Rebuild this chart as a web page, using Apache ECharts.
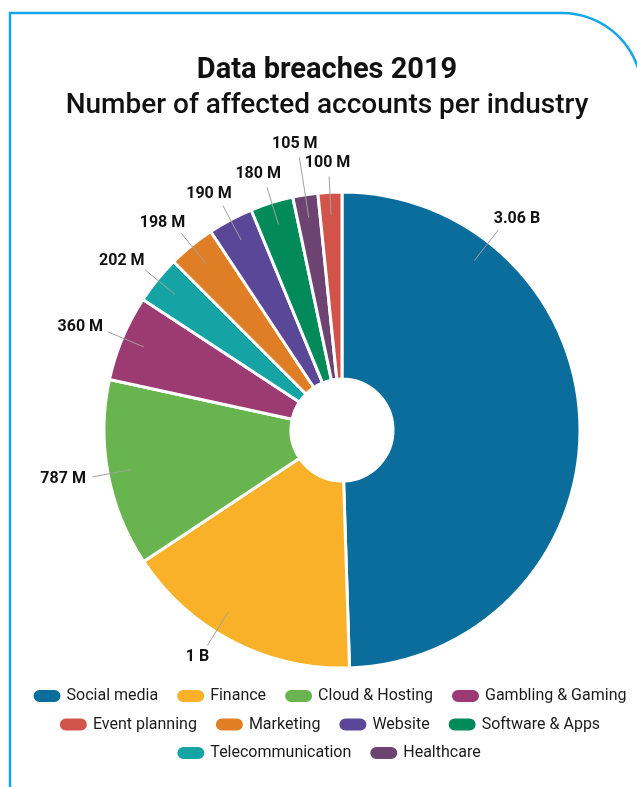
<!DOCTYPE html>
<html>
<head>
<meta charset="utf-8">
<script src="https://cdn.jsdelivr.net/npm/echarts@6/dist/echarts.min.js"></script>
<style>
  html, body { margin: 0; padding: 0; background: #fff; }
  #chart { width: 637px; height: 787px; }
</style>
</head>
<body>
<div id="chart"></div>
<script>
// data (millions of affected accounts)
const industries = ['Social media', 'Finance', 'Cloud & Hosting', 'Gambling & Gaming', 'Telecommunication',
  'Marketing', 'Website', 'Software & Apps', 'Healthcare', 'Event planning'];
const accounts = [3060, 1000, 787, 360, 202, 198, 190, 180, 105, 100];
const valueLabels = ['3.06 B', '1 B', '787 M', '360 M', '202 M', '198 M', '190 M', '180 M', '105 M', '100 M'];
const colors = ['#0b6d9c', '#f8b128', '#68b44e', '#9c3a72', '#14a4a4',
  '#e07e26', '#5a4798', '#028a5b', '#6d4371', '#d2534a'];
const legendRows = [
  ['Social media', 'Finance', 'Cloud & Hosting', 'Gambling & Gaming'],
  ['Event planning', 'Marketing', 'Website', 'Software & Apps'],
  ['Telecommunication', 'Healthcare'],
];

const FONT = 'Roboto';
const center = [342, 430];
const radius = [51, 238];
const lineStartR = 215;
const lineEndR = 254;
const labelGap = 7;
const labelFontSize = 16;
const midX = 327; // visual centre of the framed card

const ctx = document.createElement('canvas').getContext('2d');
function textWidth(t, font) {
  ctx.font = font;
  return ctx.measureText(t).width;
}

// label placement: radial line starting inside the slice, text beyond its end
const total = accounts.reduce((a, b) => a + b, 0);
let acc = 0;
const labelAngle = accounts.map((v) => {
  const m = (acc + v / 2) / total * 360;
  acc += v;
  return m;
});
// the two big slices have their labels off-centre
labelAngle[0] = 38;
labelAngle[1] = 212;

const labelPos = [];
const placed = [];
for (let i = accounts.length - 1; i >= 0; i--) {
  const a = labelAngle[i] * Math.PI / 180;
  const dx = Math.sin(a);
  const dy = -Math.cos(a);
  const w = textWidth(valueLabels[i], `bold ${labelFontSize}px ${FONT}`);
  const h = 13;
  let r2 = lineEndR;
  let box;
  for (let k = 0; k < 40; k++) {
    const ex = center[0] + dx * r2;
    const ey = center[1] + dy * r2;
    const tx = ex + dx * (labelGap + w / 2);
    const ty = ey + dy * (labelGap + h / 2);
    box = {
      x1: tx - w / 2 - 2, x2: tx + w / 2 + 2, y1: ty - h / 2 - 2, y2: ty + h / 2 + 2, tx, ty, ex, ey,
    };
    const hit = placed.some((b) => b.x1 < box.x2 && box.x1 < b.x2 && b.y1 < box.y2 && box.y1 < b.y2);
    if (!hit) break;
    r2 += 2;
  }
  placed.push(box);
  labelPos[i] = {
    tx: box.tx,
    ty: box.ty,
    sx: center[0] + dx * lineStartR,
    sy: center[1] + dy * lineStartR,
    ex: box.ex,
    ey: box.ey,
  };
}

// legend rows, each centred on the card
const legendItemW = 29;
const legendGap = 17;
const legendFontSize = 16;
const legends = legendRows.map((row, r) => {
  const width = row.reduce((s, name) => s + legendItemW + 5 + textWidth(name, `${legendFontSize}px ${FONT}`), 0)
    + legendGap * (row.length - 1);
  return {
    data: row,
    left: midX - width / 2,
    top: 688 + r * 28.5,
    padding: 0,
    itemGap: legendGap,
    itemWidth: legendItemW,
    itemHeight: 14,
    icon: 'path://M7,0L22,0A7,7,0,0,1,22,14L7,14A7,7,0,0,1,7,0Z',
    selectedMode: false,
    textStyle: { fontFamily: FONT, fontSize: legendFontSize, color: '#1a1a1a' },
  };
});

const pieData = industries.map((name, i) => ({ name, value: accounts[i] }));

const chart = echarts.init(document.getElementById('chart'));
chart.setOption({
  animation: false,
  color: colors,
  title: [{
    text: 'Data breaches 2019',
    left: midX,
    top: 56,
    padding: 0,
    textAlign: 'center',
    textStyle: { fontFamily: FONT, fontSize: 29, fontWeight: 'bold', color: '#111' },
  }, {
    text: 'Number of affected accounts per industry',
    left: midX,
    top: 92,
    padding: 0,
    textAlign: 'center',
    textStyle: { fontFamily: FONT, fontSize: 28, fontWeight: 500, color: '#111' },
  }],
  legend: legends,
  graphic: [{
    type: 'polyline',
    silent: true,
    shape: { points: [[10, 787], [10, 13], [562, 13]] },
    style: { fill: null, stroke: '#14a6e8', lineWidth: 2.5 },
  }, {
    type: 'arc',
    silent: true,
    shape: { cx: 562, cy: 93, r: 80, startAngle: -Math.PI / 2, endAngle: 0 },
    style: { fill: null, stroke: '#14a6e8', lineWidth: 2.5 },
  }],
  series: [{
    // the slices
    type: 'pie',
    z: 2,
    center,
    radius,
    startAngle: 90,
    clockwise: true,
    itemStyle: { borderColor: '#fff', borderWidth: 3 },
    emphasis: { disabled: true },
    label: { show: false },
    labelLine: { show: false },
    data: pieData,
  }, {
    // transparent copy on top, carrying the value labels and their lines
    type: 'pie',
    z: 5,
    center,
    radius,
    startAngle: 90,
    clockwise: true,
    silent: true,
    avoidLabelOverlap: false,
    itemStyle: { color: 'rgba(0,0,0,0)', borderWidth: 0 },
    emphasis: { disabled: true },
    label: {
      show: true,
      position: 'outside',
      fontFamily: FONT,
      fontSize: labelFontSize,
      fontWeight: 'bold',
      color: '#111',
      formatter: (p) => valueLabels[p.dataIndex],
    },
    labelLine: {
      show: true,
      length: 20,
      length2: 0,
      lineStyle: { color: '#a0a0a0', width: 1 },
    },
    labelLayout: (p) => {
      const pos = labelPos[p.dataIndex];
      return {
        x: pos.tx,
        y: pos.ty,
        align: 'center',
        verticalAlign: 'middle',
        labelLinePoints: [[pos.sx, pos.sy], [pos.ex, pos.ey], [pos.ex, pos.ey]],
      };
    },
    data: pieData,
  }],
});
</script>
</body>
</html>
